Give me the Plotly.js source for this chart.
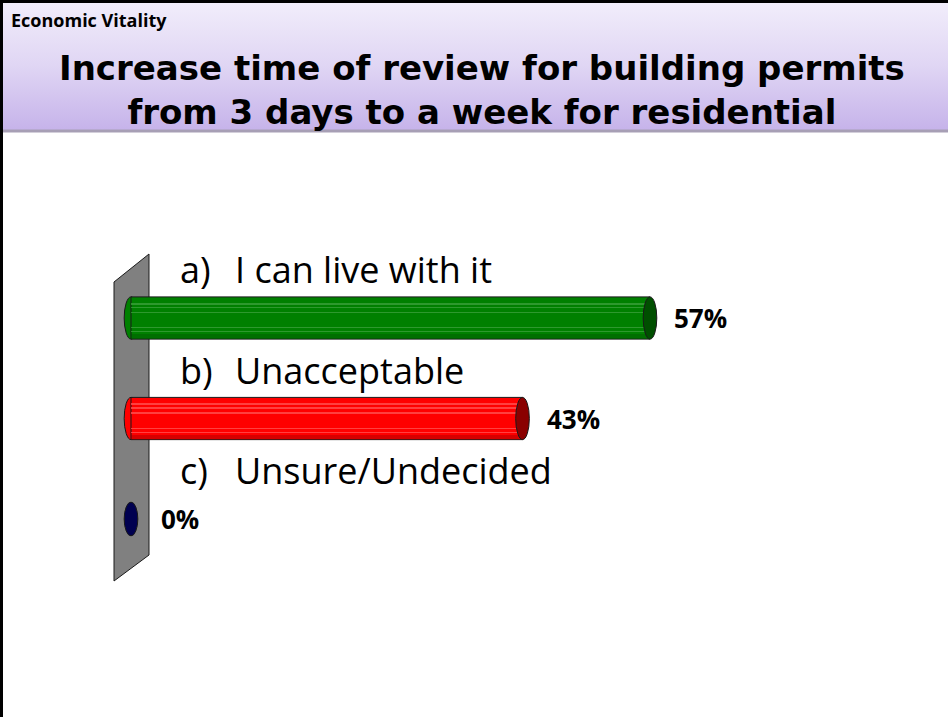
<!DOCTYPE html>
<html>
<head>
<meta charset="utf-8">
<script src="https://cdn.plot.ly/plotly-3.0.1.min.js"></script>
<style>html,body{margin:0;padding:0;background:#fff;}#chart{width:948px;height:717px;}</style>
</head>
<body>
<div id="chart"></div>
<script>
// ---- data ----
const categoryLetters = ['a)', 'b)', 'c)'];
const categories = ['I can live with it', 'Unacceptable', 'Unsure/Undecided'];
const values = [57, 43, 0];
const valueLabels = ['57%', '43%', '0%'];
const barColors = ['#008000', '#ff0000', '#000066'];
const stripeColors = ['#3a9f3a', '#ff5050', '#1a1a80'];
const capColors = ['#004f00', '#8a0000', '#000050'];
const sectionLabel = 'Economic Vitality';
const titleLines = ['Increase time of review for building permits', 'from 3 days to a week for residential'];

// ---- layout helpers ----
const W = 948, H = 717;
const px = x => x / W;
const py = y => 1 - y / H;
const pos = categories.map((c, i) => i);
const barW = 0.42;

const traces = [];
traces.push({
  type: 'bar', orientation: 'h', y: pos, x: values, width: barW,
  marker: {color: barColors, line: {color: '#1a1a1a', width: values.map(v => v > 0 ? 1 : 0)}},
  hoverinfo: 'skip', showlegend: false
});
// subtle cylinder highlights
[[-0.15, 0.02], [-0.11, 0.015], [-0.06, 0.012], [0.09, 0.012], [0.13, 0.01]].forEach(([off, w]) => {
  traces.push({
    type: 'bar', orientation: 'h', y: pos, x: values, width: w, offset: off,
    marker: {color: stripeColors, opacity: 0.8, line: {width: 0}}, hoverinfo: 'skip', showlegend: false
  });
});
traces.push({
  type: 'bar', orientation: 'h', y: pos, x: values, width: 0.05, offset: barW / 2 - 0.05,
  marker: {color: capColors, opacity: 0.35, line: {width: 0}}, hoverinfo: 'skip', showlegend: false
});

const capDx = 0.75; // half-width of end ellipse in x units
const capDy = barW / 2;

const shapes = [];
// header band bottom shadow
shapes.push({type: 'line', xref: 'paper', yref: 'paper', x0: 0, x1: 1, y0: py(131), y1: py(131), line: {color: '#a79fb5', width: 3}, layer: 'below'});
// wall
const wall = [[114, 282], [149, 254], [149, 555], [114, 581]];
shapes.push({
  type: 'path', xref: 'paper', yref: 'paper', layer: 'below',
  path: 'M ' + wall.map(p => px(p[0]) + ',' + py(p[1])).join(' L ') + ' Z',
  fillcolor: '#808080', line: {color: '#1a1a1a', width: 1}
});
// left caps (below bars)
values.forEach((v, i) => {
  if (v > 0) {
    shapes.push({type: 'circle', xref: 'x', yref: 'y', layer: 'below',
      x0: -capDx, x1: capDx, y0: i - capDy, y1: i + capDy,
      fillcolor: barColors[i], line: {color: '#1a1a1a', width: 1}});
  }
});
// right caps (above bars)
values.forEach((v, i) => {
  const dy = v > 0 ? capDy : capDy * 0.8;
  shapes.push({type: 'circle', xref: 'x', yref: 'y', layer: 'above',
    x0: v - capDx, x1: v + capDx, y0: i - dy, y1: i + dy,
    fillcolor: capColors[i], line: {color: '#1a1a1a', width: 1}});
});
// slide borders
shapes.push({type: 'line', xref: 'paper', yref: 'paper', x0: 0, x1: 1, y0: py(1.5), y1: py(1.5), line: {color: '#000', width: 3}});
shapes.push({type: 'line', xref: 'paper', yref: 'paper', x0: px(1.5), x1: px(1.5), y0: 0, y1: 1, line: {color: '#000', width: 3}});

const annotations = [];
annotations.push({xref: 'paper', yref: 'paper', x: px(9), y: py(20), xanchor: 'left', yanchor: 'middle',
  text: '<b>' + sectionLabel + '</b>', showarrow: false, font: {family: 'Open Sans', size: 18, color: '#000'}});
annotations.push({xref: 'paper', yref: 'paper', x: px(482), y: py(90), xanchor: 'center', yanchor: 'middle',
  text: titleLines.map(t => '<b>' + t + '</b>').join('<br>'), showarrow: false,
  font: {family: 'DejaVu Sans', size: 34, color: '#000'}});
categories.forEach((c, i) => {
  annotations.push({xref: 'paper', yref: 'y', x: px(178), y: i - 0.48, xanchor: 'left', yanchor: 'middle',
    text: categoryLetters[i], showarrow: false, font: {family: 'Open Sans', size: 36, color: '#000'}});
  annotations.push({xref: 'paper', yref: 'y', x: px(233), y: i - 0.48, xanchor: 'left', yanchor: 'middle',
    text: c, showarrow: false, font: {family: 'Open Sans', size: 36, color: '#000'}});
});
values.forEach((v, i) => {
  annotations.push({xref: 'x', yref: 'y', x: v, y: i, xanchor: 'left', yanchor: 'middle', xshift: v > 0 ? 22 : 28,
    text: '<b>' + valueLabels[i] + '</b>', showarrow: false, font: {family: 'Open Sans', size: 26, color: '#000'}});
});

const grad = 'data:image/svg+xml;utf8,' + encodeURIComponent(
  '<svg xmlns="http://www.w3.org/2000/svg" width="100" height="100" preserveAspectRatio="none">' +
  '<defs><linearGradient id="g" x1="0" y1="0" x2="0" y2="1">' +
  '<stop offset="0" stop-color="#f2eefb"/><stop offset="0.5" stop-color="#e0d6f4"/><stop offset="1" stop-color="#c6b3ea"/>' +
  '</linearGradient></defs><rect width="100" height="100" fill="url(#g)"/></svg>');

const layout = {
  width: W, height: H,
  margin: {l: 0, r: 0, t: 0, b: 0, pad: 0},
  paper_bgcolor: '#fff', plot_bgcolor: 'rgba(0,0,0,0)',
  barmode: 'overlay', bargap: 0,
  xaxis: {range: [-131 / 9.105, (W - 131) / 9.105], visible: false, fixedrange: true},
  yaxis: {range: [(H - 318) / 100.5, -318 / 100.5], visible: false, fixedrange: true},
  shapes: shapes, annotations: annotations,
  images: [{source: grad, xref: 'paper', yref: 'paper', x: 0, y: 1, sizex: 1, sizey: 130 / H,
    sizing: 'stretch', xanchor: 'left', yanchor: 'top', layer: 'below'}],
  showlegend: false
};

Plotly.newPlot('chart', traces, layout, {staticPlot: true, displayModeBar: false});
</script>
</body>
</html>
